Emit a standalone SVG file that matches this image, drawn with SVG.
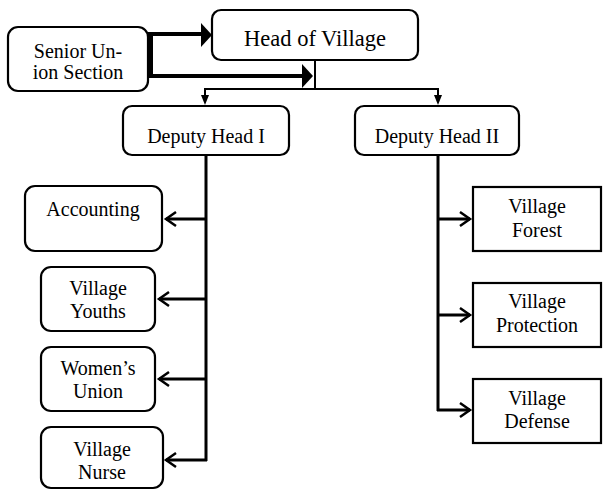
<svg xmlns="http://www.w3.org/2000/svg" width="613" height="490" viewBox="0 0 613 490">
<defs>
<style>
.box{fill:#fff;stroke:#000;stroke-width:2.2}
.t{font-family:"Liberation Serif","Times New Roman",serif;font-size:20px;fill:#000;text-anchor:middle}
.big{font-size:22.5px}
.ln{fill:none;stroke:#000;stroke-width:3}
.thin{fill:none;stroke:#000;stroke-width:2}
.thick{fill:none;stroke:#000;stroke-width:4}
.chev{fill:none;stroke:#000;stroke-width:2.5;stroke-linejoin:miter}
</style>
</defs>
<rect width="613" height="490" fill="#fff"/>
<g id="connectors">
<path class="thick" d="M148,34 H203 M151,32 V78 M149,76 H304"/>
<polygon points="212,35 201,23 201,47" fill="#000"/>
<polygon points="313,76 302,64 302,88" fill="#000"/>
<path class="thin" d="M315,60 V89 M205,89 H438 M205,88 V97 M438,88 V97"/>
<polygon points="205,105 201,95 209,95" fill="#000"/>
<polygon points="438,105 434,95 442,95" fill="#000"/>
<path class="ln" d="M206,155 V461 M206,219 H166 M206,299 H159 M206,379 H159 M207,460 H166"/>
<path class="chev" d="M176,212 L166,219 L176,226 M169,292 L159,299 L169,306 M169,372 L159,379 L169,386 M176,453 L166,460 L176,467"/>
<path class="ln" d="M438,155 V411 M437,219 H470 M437,315 H470 M437,410 H470"/>
<path class="chev" d="M460,212 L470,219 L460,226 M460,308 L470,315 L460,322 M460,403 L470,410 L460,417"/>
</g>
<g id="senior"><rect class="box" x="8" y="27" width="140" height="64" rx="10"/><text class="t" x="78" y="58">Senior Un-</text><text class="t" x="78" y="79">ion Section</text></g>
<g id="head"><rect class="box" x="212" y="10" width="206" height="50" rx="9"/><text class="t big" x="315" y="46">Head of Village</text></g>
<g id="deputy1"><rect class="box" x="123" y="106" width="166" height="49" rx="9"/><text class="t" x="206" y="143">Deputy Head I</text></g>
<g id="deputy2"><rect class="box" x="355" y="106" width="164" height="49" rx="9"/><text class="t" x="437" y="143">Deputy Head II</text></g>
<g id="accounting"><rect class="box" x="25" y="186" width="137" height="65" rx="10"/><text class="t" x="93" y="216">Accounting</text></g>
<g id="youths"><rect class="box" x="41" y="267" width="114" height="64" rx="10"/><text class="t" x="98" y="295">Village</text><text class="t" x="98" y="318">Youths</text></g>
<g id="women"><rect class="box" x="41" y="347" width="114" height="64" rx="10"/><text class="t" x="98" y="375">Women’s</text><text class="t" x="98" y="398">Union</text></g>
<g id="nurse"><rect class="box" x="41" y="427" width="122" height="61" rx="10"/><text class="t" x="102" y="456">Village</text><text class="t" x="102" y="479">Nurse</text></g>
<g id="forest"><rect class="box" x="473" y="187" width="128" height="64"/><text class="t" x="537" y="213">Village</text><text class="t" x="537" y="237">Forest</text></g>
<g id="protection"><rect class="box" x="473" y="283" width="128" height="64"/><text class="t" x="537" y="308">Village</text><text class="t" x="537" y="332">Protection</text></g>
<g id="defense"><rect class="box" x="473" y="379" width="128" height="64"/><text class="t" x="537" y="405">Village</text><text class="t" x="537" y="428">Defense</text></g>
</svg>
